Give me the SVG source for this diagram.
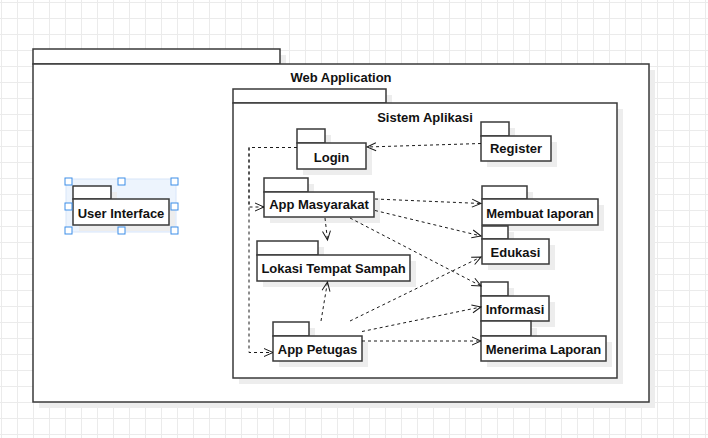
<svg xmlns="http://www.w3.org/2000/svg" width="708" height="438" viewBox="0 0 708 438">
<style>
.sh{fill:#ededed}
.box{fill:#fff;stroke:#3a3a3a;stroke-width:1.5}
.lbl{font-family:"Liberation Sans",Arial,Helvetica,sans-serif;font-size:13px;font-weight:bold;fill:#111;text-anchor:middle}
.edge{fill:none;stroke:#1a1a1a;stroke-width:1;stroke-dasharray:3 3}
.hdl{fill:#fff;stroke:#3d8ee8;stroke-width:1}
</style>
<defs>
<pattern id="grid" patternUnits="userSpaceOnUse" x="1" y="2" width="16" height="16">
<path d="M0.5 0 V16 M0 0.5 H16" fill="none" stroke="#ebebeb" stroke-width="1"/>
</pattern>
<marker id="open" markerUnits="userSpaceOnUse" markerWidth="14" markerHeight="12" viewBox="-11 -6 14 12" refX="0" refY="0" orient="auto" overflow="visible">
<path d="M-9,-4 L0,0 L-9,4" fill="none" stroke="#1a1a1a" stroke-width="1"/>
</marker>
</defs>
<rect width="708" height="438" fill="#fff"/>
<rect width="708" height="438" fill="url(#grid)"/>

<g id="web-application">
<rect class="sh" x="39" y="55" width="247" height="15"/>
<rect class="sh" x="39" y="70" width="616" height="338"/>
<rect class="box" x="33" y="49" width="247" height="15"/>
<rect class="box" x="33" y="64" width="616" height="338"/>
<text class="lbl" x="341" y="82">Web Application</text>
</g>

<g id="sistem-aplikasi">
<rect class="sh" x="239" y="95" width="153" height="14"/>
<rect class="sh" x="239" y="109" width="384" height="275"/>
<rect class="box" x="233" y="89" width="153" height="14"/>
<rect class="box" x="233" y="103" width="384" height="275"/>
<text class="lbl" x="425" y="121.5">Sistem Aplikasi</text>
</g>

<g id="user-interface">
<rect x="66" y="179" width="110" height="53" fill="#edf4fd" stroke="#d8e6fa" stroke-width="1"/>
<rect class="sh" x="79" y="192" width="38" height="13"/>
<rect class="sh" x="79" y="205" width="96" height="26"/>
<rect class="box" x="73" y="186" width="38" height="13"/>
<rect class="box" x="73" y="199" width="96" height="26"/>
<text class="lbl" x="121" y="217.5">User Interface</text>
<rect class="hdl" x="65" y="178" width="7" height="7"/>
<rect class="hdl" x="118" y="178" width="7" height="7"/>
<rect class="hdl" x="171" y="178" width="7" height="7"/>
<rect class="hdl" x="65" y="203" width="7" height="7"/>
<rect class="hdl" x="171" y="203" width="7" height="7"/>
<rect class="hdl" x="65" y="227" width="7" height="7"/>
<rect class="hdl" x="118" y="227" width="7" height="7"/>
<rect class="hdl" x="171" y="227" width="7" height="7"/>
</g>

<g id="login">
<rect class="sh" x="303" y="135" width="28" height="14"/>
<rect class="sh" x="303" y="149" width="69" height="26"/>
<rect class="box" x="297" y="129" width="28" height="14"/>
<rect class="box" x="297" y="143" width="69" height="26"/>
<text class="lbl" x="331.5" y="161.5">Login</text>
</g>

<g id="register">
<rect class="sh" x="487" y="128" width="28" height="14"/>
<rect class="sh" x="487" y="142" width="70" height="25"/>
<rect class="box" x="481" y="122" width="28" height="14"/>
<rect class="box" x="481" y="136" width="70" height="25"/>
<text class="lbl" x="516" y="153">Register</text>
</g>

<g id="app-masyarakat">
<rect class="sh" x="270" y="184" width="44" height="14"/>
<rect class="sh" x="270" y="198" width="110" height="25"/>
<rect class="box" x="264" y="178" width="44" height="14"/>
<rect class="box" x="264" y="192" width="110" height="25"/>
<text class="lbl" x="319" y="209">App Masyarakat</text>
</g>

<g id="lokasi-tempat-sampah">
<rect class="sh" x="263" y="247" width="61" height="14"/>
<rect class="sh" x="263" y="261" width="153" height="26"/>
<rect class="box" x="257" y="241" width="61" height="14"/>
<rect class="box" x="257" y="255" width="153" height="26"/>
<text class="lbl" x="333.5" y="272.5">Lokasi Tempat Sampah</text>
</g>

<g id="membuat-laporan">
<rect class="sh" x="488" y="192" width="45" height="13"/>
<rect class="sh" x="488" y="205" width="116" height="26"/>
<rect class="box" x="482" y="186" width="45" height="13"/>
<rect class="box" x="482" y="199" width="116" height="26"/>
<text class="lbl" x="540" y="217.5">Membuat laporan</text>
</g>

<g id="edukasi">
<rect class="sh" x="488" y="232" width="26" height="13"/>
<rect class="sh" x="488" y="245" width="67" height="25"/>
<rect class="box" x="482" y="226" width="26" height="13"/>
<rect class="box" x="482" y="239" width="67" height="25"/>
<text class="lbl" x="515.5" y="257">Edukasi</text>
</g>

<g id="informasi">
<rect class="sh" x="487" y="288" width="27" height="14"/>
<rect class="sh" x="487" y="302" width="68" height="25"/>
<rect class="box" x="481" y="282" width="27" height="14"/>
<rect class="box" x="481" y="296" width="68" height="25"/>
<text class="lbl" x="515" y="313.5">Informasi</text>
</g>

<g id="menerima-laporan">
<rect class="sh" x="487" y="328" width="50" height="14"/>
<rect class="sh" x="487" y="342" width="125" height="25"/>
<rect class="box" x="481" y="321" width="50" height="15"/>
<rect class="box" x="481" y="336" width="125" height="25"/>
<text class="lbl" x="543.5" y="353.5">Menerima Laporan</text>
</g>

<g id="app-petugas">
<rect class="sh" x="279" y="328" width="36" height="14"/>
<rect class="sh" x="279" y="342" width="89" height="25"/>
<rect class="box" x="273" y="322" width="36" height="14"/>
<rect class="box" x="273" y="336" width="89" height="25"/>
<text class="lbl" x="317.5" y="353.5">App Petugas</text>
</g>

<g id="connectors">
<path class="edge" d="M481,143.5 L367,147" marker-end="url(#open)"/>
<path class="edge" d="M297,147.5 H249 V207 H264" marker-end="url(#open)"/>
<path class="edge" d="M297,147.5 H249 V352.5 H273" marker-end="url(#open)"/>
<path class="edge" d="M375,199 L481,203.5" marker-end="url(#open)"/>
<path class="edge" d="M375,210.5 L481,236" marker-end="url(#open)"/>
<path class="edge" d="M350,218 L481,286" marker-end="url(#open)"/>
<path class="edge" d="M325,218 L327.5,240" marker-end="url(#open)"/>
<path class="edge" d="M321,321 L327.5,282" marker-end="url(#open)"/>
<path class="edge" d="M350,321 L481,257" marker-end="url(#open)"/>
<path class="edge" d="M362,331.5 L481,307" marker-end="url(#open)"/>
<path class="edge" d="M362,341 L481,341" marker-end="url(#open)"/>
</g>
</svg>
